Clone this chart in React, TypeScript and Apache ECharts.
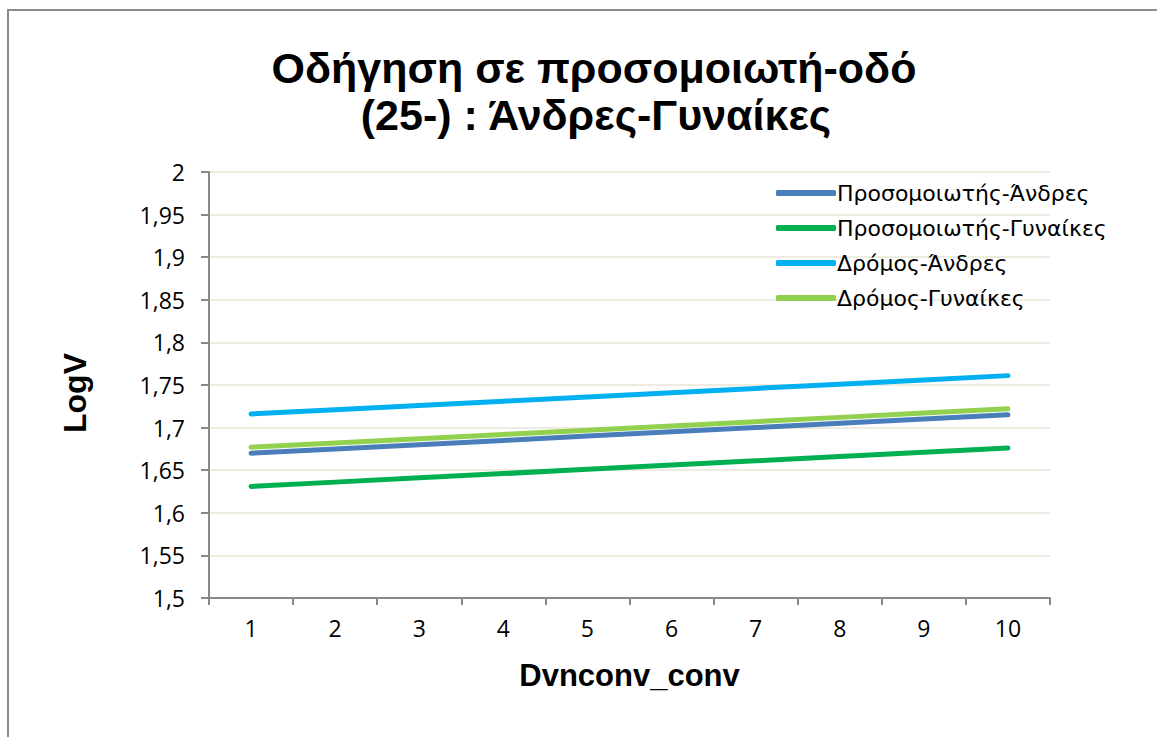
import React, { useEffect, useRef } from "react";
import * as echarts from "echarts";

const categories = ["1", "2", "3", "4", "5", "6", "7", "8", "9", "10"];
const seriesNames = [
  "Προσομοιωτής-Άνδρες",
  "Προσομοιωτής-Γυναίκες",
  "Δρόμος-Άνδρες",
  "Δρόμος-Γυναίκες",
];
const simMen = [1.670, 1.675, 1.680, 1.685, 1.690, 1.695, 1.700, 1.705, 1.710, 1.715];
const simWomen = [1.631, 1.636, 1.641, 1.646, 1.651, 1.656, 1.661, 1.666, 1.671, 1.676];
const roadMen = [1.716, 1.721, 1.726, 1.731, 1.736, 1.741, 1.746, 1.751, 1.756, 1.761];
const roadWomen = [1.677, 1.682, 1.687, 1.692, 1.697, 1.702, 1.707, 1.712, 1.717, 1.722];
const colors = ["#4A7EBB", "#00B050", "#00B0F0", "#92D050"];
const titleLines = ["Οδήγηση σε προσομοιωτή-οδό", "(25-) : Άνδρες-Γυναίκες"];
const xName = "Dvnconv_conv";
const yName = "LogV";

export default function App() {
  const ref = useRef<HTMLDivElement>(null);
  useEffect(() => {
    if (!ref.current) return;
    const chart = echarts.init(ref.current, null, { renderer: "svg" });
    const data = [simMen, simWomen, roadMen, roadWomen];
    const labelFont = "'Open Sans', sans-serif";
    const boldFont = "'Liberation Sans', Arial, sans-serif";
    const legendFont = "'DejaVu Sans', 'Liberation Sans', sans-serif";
    chart.setOption({
      animation: false,
      backgroundColor: "#ffffff",
      color: colors,
      graphic: [
        {
          type: "rect",
          silent: true,
          shape: { x: 8, y: 10, width: 1300, height: 900 },
          style: { fill: "none", stroke: "#8c8c8c", lineWidth: 2 },
          z: -1,
        },
        {
          type: "text",
          x: 594,
          y: 68,
          style: {
            text: titleLines[0],
            font: `bold 43px ${boldFont}`,
            fill: "#000",
            textAlign: "center",
            textVerticalAlign: "middle",
          },
        },
        {
          type: "text",
          x: 596,
          y: 115,
          style: {
            text: titleLines[1],
            font: `bold 43px ${boldFont}`,
            fill: "#000",
            textAlign: "center",
            textVerticalAlign: "middle",
          },
        },
      ],
      legend: {
        orient: "vertical",
        left: 771,
        top: 177,
        icon: "roundRect",
        itemWidth: 60,
        itemHeight: 6,
        itemGap: 13,
        data: seriesNames,
        textStyle: {
          fontFamily: legendFont,
          fontSize: 22,
          color: "#000",
          padding: [0, 0, 0, -4],
        },
      },
      grid: { left: 209, top: 172, right: 107, bottom: 139, containLabel: false },
      xAxis: {
        type: "category",
        data: categories,
        boundaryGap: true,
        name: xName,
        nameLocation: "middle",
        nameGap: 62,
        nameTextStyle: { fontFamily: boldFont, fontWeight: "bold", fontSize: 31, color: "#000" },
        axisLine: { lineStyle: { color: "#888888", width: 2 } },
        axisTick: { show: true, length: 7, lineStyle: { color: "#888888", width: 2 } },
        axisLabel: { margin: 18, fontFamily: labelFont, fontSize: 23, color: "#000" },
        splitLine: { show: false },
      },
      yAxis: {
        type: "value",
        min: 1.5,
        max: 2,
        interval: 0.05,
        name: yName,
        nameLocation: "middle",
        nameGap: 118,
        nameRotate: 90,
        nameTextStyle: {
          fontFamily: boldFont,
          fontWeight: "bold",
          fontSize: 32,
          color: "#000",
          padding: [0, 16, 0, 0],
        },
        axisLine: { show: true, lineStyle: { color: "#888888", width: 2 } },
        axisTick: { show: true, length: 8, lineStyle: { color: "#888888", width: 2 } },
        axisLabel: {
          margin: 24,
          fontFamily: labelFont,
          fontSize: 23,
          color: "#000",
          formatter: (v: number) => String(parseFloat(v.toFixed(2))).replace(".", ","),
        },
        splitLine: { show: true, lineStyle: { color: "#EEECE1", width: 2 } },
      },
      series: seriesNames.map((name, i) => ({
        name,
        type: "line",
        data: data[i],
        symbol: "none",
        lineStyle: { width: 5, cap: "round", color: colors[i] },
        itemStyle: { color: colors[i] },
      })),
    });
    return () => chart.dispose();
  }, []);
  return (
    <div
      ref={ref}
      style={{ position: "absolute", left: 0, top: 0, width: 1157, height: 737 }}
    />
  );
}
